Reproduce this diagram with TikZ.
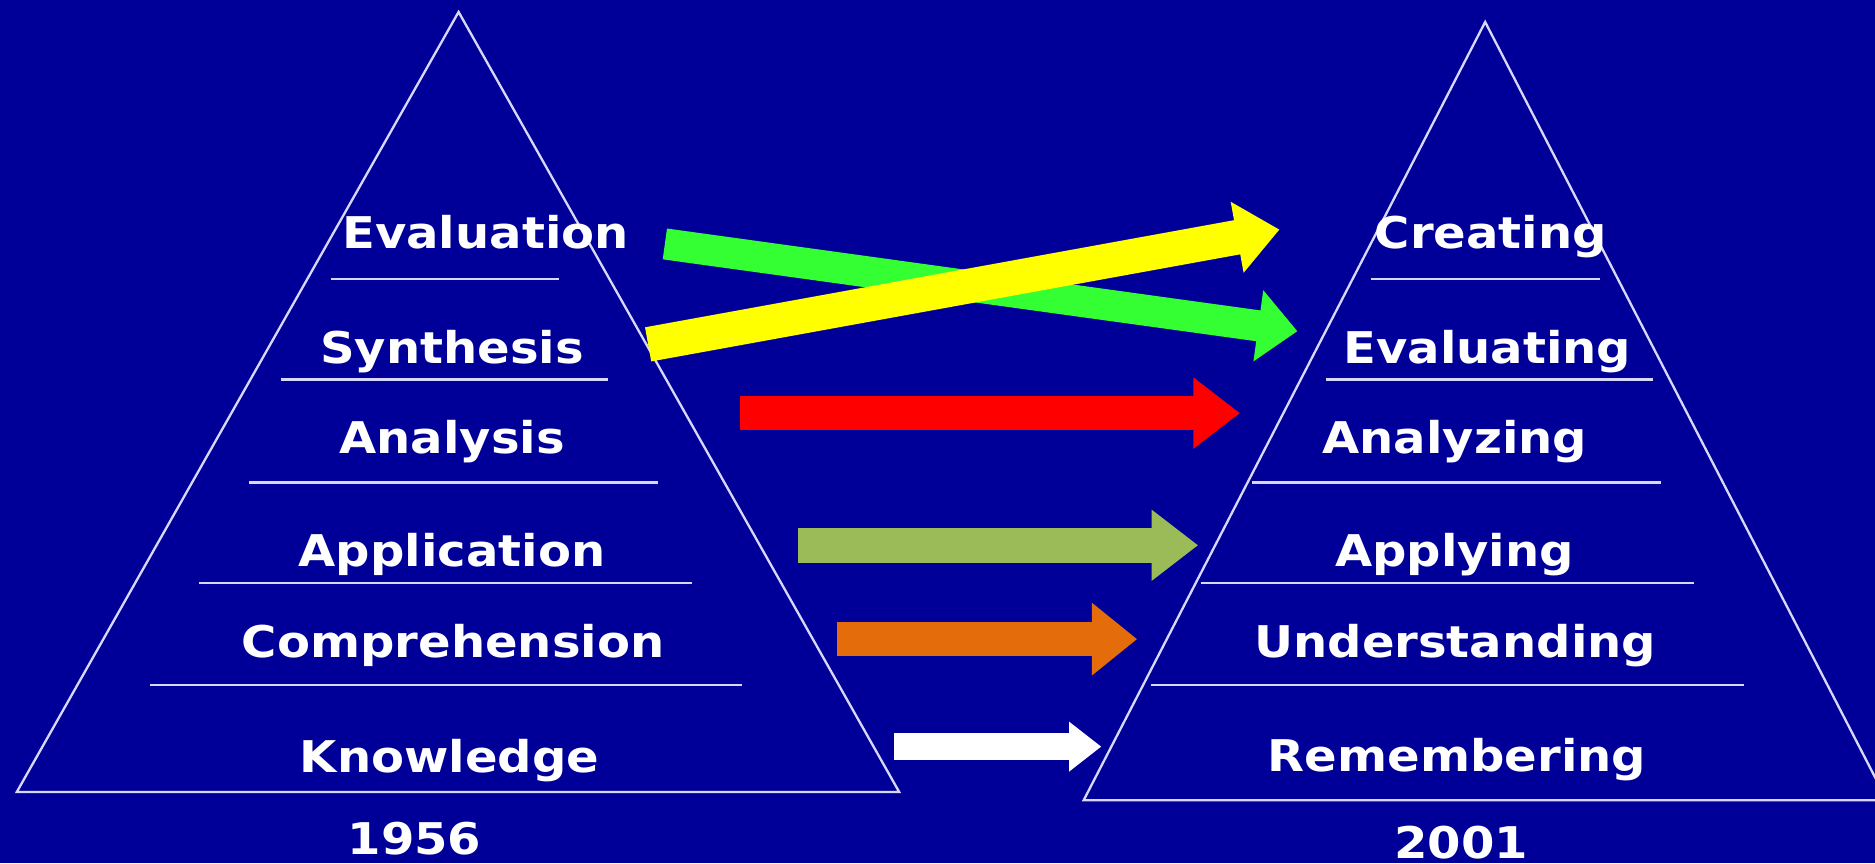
\documentclass[tikz,border=0pt]{standalone}
\usepackage{fontspec}
\setmainfont{DejaVu Sans}
\newfontfamily\levelfont{DejaVu Sans}[FakeStretch=1.1]
\usetikzlibrary{arrows.meta}
\definecolor{slideblue}{HTML}{000099}
\definecolor{edgeline}{HTML}{D8D8FF}
\definecolor{evalgreen}{HTML}{33FF33}
\definecolor{synthyellow}{HTML}{FFFF00}
\definecolor{analred}{HTML}{FF0000}
\definecolor{applyolive}{HTML}{9BBB59}
\definecolor{comporange}{HTML}{E46C0A}
\tikzset{
  level/.style={text=white, font={\levelfont\bfseries\fontsize{10.4}{12}\selectfont}, anchor=base, inner sep=0pt},
  pyramid/.style={draw=edgeline, line width=0.55pt, line join=miter},
  divider/.style={draw=edgeline, line width=0.55pt},
  blockarrow/.style n args={4}{draw=#1, line width=#2, line cap=butt, -{Triangle[length=#3, width=#4]}}
}

\begin{document}
\begin{tikzpicture}[x=0.1mm, y=-0.1mm]
  \useasboundingbox[fill=slideblue] (0,0) rectangle (1568,722);

  % 1956 pyramid
  \draw[pyramid] (383.5,10) -- (14,662.4) -- (752,662.4) -- cycle;
  \draw[divider] (277,233.2) -- (467.7,233.2);
  \draw[divider] (234.6,317.4) -- (508.8,317.4);
  \draw[divider] (208,403.4) -- (550.4,403.4);
  \draw[divider] (166.4,487.6) -- (579,487.6);
  \draw[divider] (125.3,572.7) -- (620.5,572.7);
  \node[level] (lEval) at (406,208) {Evaluation};
  \node[level] (lSynth) at (378,303.6) {Synthesis};
  \node[level] (lAnal) at (378,379.5) {Analysis};
  \node[level] (lAppl) at (378,473.8) {Application};
  \node[level] (lComp) at (379,549.7) {Comprehension};
  \node[level] (lKnow) at (376,646) {Knowledge};
  \node[level] (lYear) at (346.6,715) {1956};

  % 2001 pyramid
  \draw[pyramid] (1242,18.4) -- (906.2,669.3) -- (1578,669.3) -- cycle;
  \draw[divider] (1146.3,233.2) -- (1338.3,233.2);
  \draw[divider] (1108.7,317.4) -- (1382.4,317.4);
  \draw[divider] (1046.6,403.4) -- (1389.4,403.4);
  \draw[divider] (1004,487.6) -- (1417,487.6);
  \draw[divider] (962.3,572.7) -- (1458.6,572.7);
  \node[level] (rCreate) at (1246.8,208) {Creating};
  \node[level] (rEval) at (1243.8,303.6) {Evaluating};
  \node[level] (rAnal) at (1216.7,379.5) {Analyzing};
  \node[level] (rAppl) at (1216.4,473.8) {Applying};
  \node[level] (rUnder) at (1217,549.7) {Understanding};
  \node[level] (rRemem) at (1218.5,645) {Remembering};
  \node[level] (rYear) at (1222,717.6) {2001};

  % arrows between the levels
  \coordinate (evalTail) at (556,204);
  \coordinate (evalTip) at (1085,277);
  \coordinate (synthTail) at (542,288);
  \coordinate (synthTip) at (1070,192);
  \coordinate (analTail) at (619,345.5);
  \coordinate (analTip) at (1037,345.5);
  \coordinate (applTail) at (667,456);
  \coordinate (applTip) at (1002,456);
  \coordinate (compTail) at (700,534.5);
  \coordinate (compTip) at (951,534.5);
  \coordinate (knowTail) at (748,624.4);
  \coordinate (knowTip) at (921,624.4);
  \draw[blockarrow={evalgreen}{2.6mm}{3.3mm}{5.8mm}] (evalTail) -- (evalTip);
  \draw[blockarrow={synthyellow}{2.9mm}{3.6mm}{5.8mm}] (synthTail) -- (synthTip);
  \draw[blockarrow={analred}{2.8mm}{3.9mm}{5.7mm}] (analTail) -- (analTip);
  \draw[blockarrow={applyolive}{2.9mm}{3.9mm}{5.7mm}] (applTail) -- (applTip);
  \draw[blockarrow={comporange}{2.9mm}{3.8mm}{5.85mm}] (compTail) -- (compTip);
  \draw[blockarrow={white}{2.2mm}{2.7mm}{4.0mm}] (knowTail) -- (knowTip);
\end{tikzpicture}
\end{document}
